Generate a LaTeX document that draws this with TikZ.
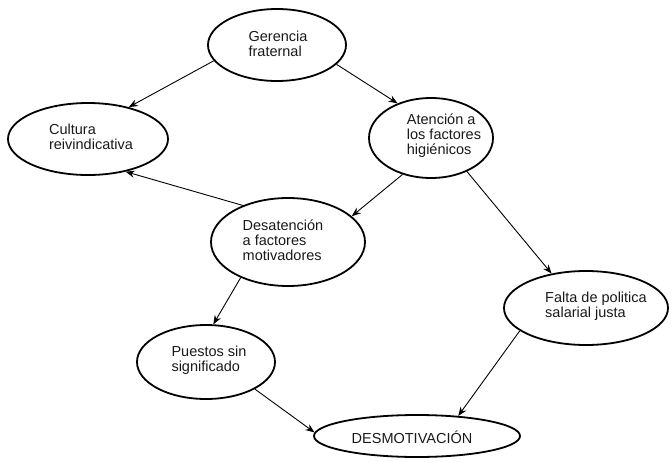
\documentclass[tikz,border=0pt]{standalone}
\usepackage{fontspec}
\setmainfont{Liberation Sans}
\usetikzlibrary{shapes.geometric,arrows.meta}
\begin{document}
\begin{tikzpicture}[x=1pt,y=-1pt,
  ell/.style={draw=black,line width=1.8pt,ellipse,inner sep=0pt},
  txt/.style={align=left,inner sep=0pt,text=black!90,
    font=\fontsize{14.5pt}{15pt}\selectfont},
  arr/.style={draw=black,line width=0.9pt,-{Stealth[length=9pt,width=7pt]}}]
\useasboundingbox (0,0) rectangle (672,461);

% ellipses
\node[ell,minimum width=138pt,minimum height=72pt] (g) at (277,45) {};
\node[ell,minimum width=160pt,minimum height=72pt] (c) at (88,139) {};
\node[ell,minimum width=124pt,minimum height=80pt] (a) at (431,138) {};
\node[ell,minimum width=154pt,minimum height=88pt] (d) at (288,242) {};
\node[ell,minimum width=138pt,minimum height=74pt] (p) at (206,362) {};
\node[ell,minimum width=164pt,minimum height=74pt] (f) at (586,308) {};
\node[ell,minimum width=206pt,minimum height=42pt] (m) at (417,436) {};

% labels
\node[txt] (gt) at (278,44) {Gerencia\\fraternal};
\node[txt] (ct) at (91,137) {Cultura\\reivindicativa};
\node[txt] (at) at (444,136) {Atención a\\los factores\\higiénicos};
\node[txt] (dt) at (283,240) {Desatención\\a factores\\motivadores};
\node[txt] (pt) at (209,360) {Puestos sin\\significado};
\node[txt] (ft) at (596,306) {Falta de politica\\salarial justa};
\node[txt] (mt) at (412,437) {DESMOTIVACIÓN};

% connectors
\draw[arr] (g.194.9) -- (c.38.7);
\draw[arr] (g.342.4) -- (a.134.3);
\draw[arr] (a.232.6) -- (d.22.6);
\draw[arr] (a.317.6) -- (f.135);
\draw[arr] (d.141.5) -- (c.319.4);
\draw[arr] (d.217.2) -- (p.79);
\draw[arr] (p.331.6) -- (m.178.3);
\draw[arr] (f.199.2) -- (m.26.6);
\end{tikzpicture}
\end{document}
